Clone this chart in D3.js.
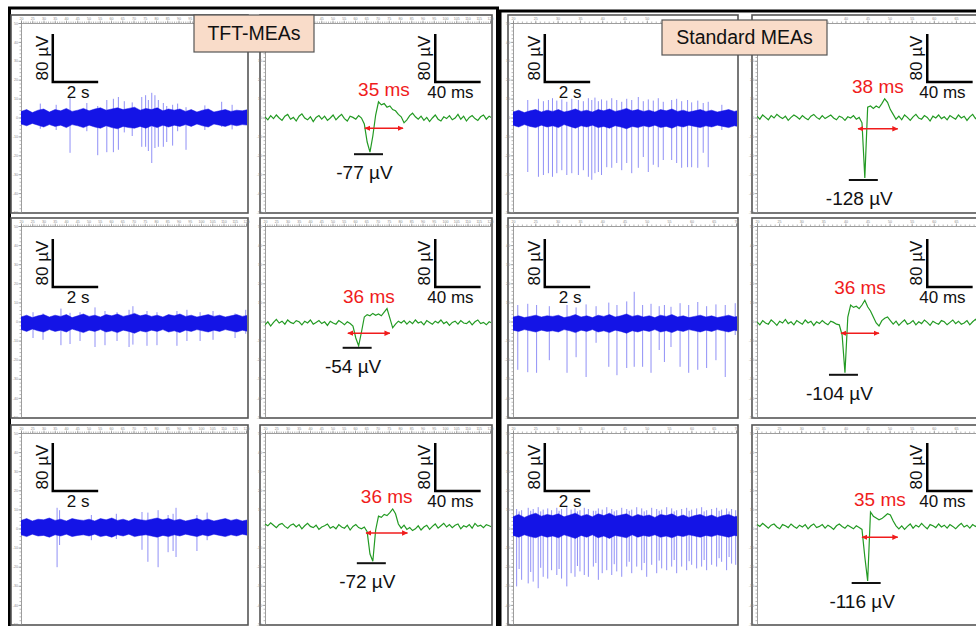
<!DOCTYPE html>
<html>
<head>
<meta charset="utf-8">
<script src="https://cdn.jsdelivr.net/npm/d3@7"></script>
<style>
  body { margin: 0; background: #fff; }
  svg { display: block; font-family: "Liberation Sans", Arial, sans-serif; }
</style>
</head>
<body>
<svg id="fig" width="976" height="626"></svg>
<script>
// ---- data (µV, s or ms) ----
const groupLabels = ["TFT-MEAs", "Standard MEAs"];
const durLabels = ["35 ms", "36 ms", "36 ms", "38 ms", "36 ms", "35 ms"];
const ampLabels = ["-77 µV", "-54 µV", "-72 µV", "-128 µV", "-104 µV", "-116 µV"];

// noise band envelopes, one value every 0.25 s (0..10 s)
const b1Up = [11,14,9,13,15,10,14,12,16,11,13,16,12,15,17,13,15,17,14,16,18,13,16,14,17,12,15,13,15,11,14,10,13,15,10,12,14,11,13,12,14];
const b1Lo = [-10,-13,-9,-12,-15,-11,-14,-12,-16,-11,-13,-16,-12,-15,-17,-13,-16,-18,-14,-16,-17,-14,-17,-13,-16,-12,-15,-12,-14,-11,-14,-10,-13,-15,-10,-12,-14,-11,-13,-11,-12];
const b2Up = [10,13,9,12,14,10,13,11,14,9,12,15,11,13,10,14,12,15,11,13,16,12,14,11,13,10,14,12,15,11,13,10,12,14,11,13,10,12,14,11,13];
const b2Lo = [-11,-14,-10,-13,-15,-11,-14,-12,-15,-10,-13,-16,-12,-14,-11,-15,-13,-16,-12,-14,-17,-13,-15,-12,-14,-11,-15,-13,-16,-12,-14,-11,-13,-15,-12,-14,-11,-13,-15,-12,-14];
const b3Up = [11,14,10,13,12,15,11,13,10,14,12,11,13,10,14,12,15,11,13,10,14,12,11,13,15,12,14,11,13,10,12,14,11,13,10,12,14,11,13,10,12];
const b3Lo = [-13,-16,-12,-15,-14,-17,-13,-15,-12,-16,-14,-13,-15,-12,-16,-14,-17,-13,-15,-12,-16,-14,-13,-15,-17,-14,-16,-13,-15,-12,-14,-16,-13,-15,-12,-14,-16,-13,-15,-12,-14];
const b4Up = [10,13,9,12,14,10,13,11,14,10,12,15,11,13,10,14,12,15,11,13,16,12,14,11,13,10,14,12,15,11,13,10,12,14,11,13,10,12,14,11,13];
const b4Lo = [-12,-15,-11,-14,-16,-12,-15,-13,-16,-11,-14,-17,-13,-15,-12,-16,-14,-17,-13,-15,-18,-14,-16,-13,-15,-12,-16,-14,-17,-13,-15,-12,-14,-16,-13,-15,-12,-14,-16,-13,-15];
const b5Up = [10,12,9,11,13,10,12,11,13,9,11,14,10,12,9,13,11,14,10,12,15,11,13,10,12,9,13,11,14,10,12,9,11,13,10,12,9,11,13,10,12];
const b5Lo = [-12,-14,-11,-13,-15,-12,-14,-13,-15,-11,-13,-16,-12,-14,-11,-15,-13,-16,-12,-14,-17,-13,-15,-12,-14,-11,-15,-13,-16,-12,-14,-11,-13,-15,-12,-14,-11,-13,-15,-12,-14];
const b6Up = [17,21,16,20,23,18,21,19,22,17,20,23,18,21,17,22,19,23,18,20,22,17,21,18,20,16,21,19,22,17,20,16,19,21,17,20,16,19,21,17,19];
const b6Lo = [-14,-17,-13,-16,-18,-14,-17,-15,-18,-13,-16,-19,-14,-17,-13,-18,-15,-19,-14,-16,-18,-13,-17,-14,-16,-13,-17,-15,-18,-14,-16,-13,-15,-17,-14,-16,-13,-15,-17,-14,-16];

// spikes: [time s, top µV, bottom µV]
const b1Spikes = [[0.85,24,-18],[1.55,22,-20],[2.16,35,-58],[2.9,25,-22],[3.38,20,-62],[3.78,30,-57],[4.07,32,-57],[4.29,35,-53],[4.55,28,-24],[4.9,26,-30],
  [5.32,35,-48],[5.49,38,-48],[5.61,30,-55],[5.76,42,-75],[5.90,38,-50],[6.05,30,-48],[6.27,25,-48],[6.42,20,-40],[6.68,22,-46],[6.9,24,-22],
  [7.27,18,-53],[8.1,21,-20],[8.84,27,-15],[9.3,22,-19]];
const b2Spikes = [[0.53,18,-25],[0.97,16,-28],[1.76,24,-37],[2.16,17,-35],[2.6,18,-30],[3.26,26,-40],[3.7,20,-37],[4.23,18,-30],[4.76,22,-40],
  [4.93,28,-36],[5.55,20,-38],[5.99,18,-37],[6.87,20,-38],[7.31,22,-30],[7.89,18,-30],[8.46,20,-28],[9.43,16,-25],[9.9,22,-18]];
const b3Spikes = [[1.59,32,-67],[1.7,28,-30],[3.1,20,-22],[4.2,22,-20],[5.33,25,-38],[5.59,24,-58],[6.04,28,-67],[6.48,20,-42],[6.70,22,-40],
  [6.83,32,-50],[7.75,20,-40],[8.2,24,-22]];
const b4Spikes = [[0.65,30,-90],[1.12,32,-98],[1.34,28,-95],[1.56,30,-92],[1.74,33,-98],[1.93,29,-92],[2.15,31,-87],[2.37,27,-95],[2.59,32,-92],
  [2.88,30,-95],[3.10,28,-87],[3.32,33,-98],[3.47,30,-103],[3.61,34,-92],[3.76,28,-90],[3.90,31,-95],[4.13,29,-82],[4.35,33,-83],[4.57,30,-75],
  [4.79,27,-87],[5.01,32,-75],[5.23,30,-92],[5.52,35,-83],[5.74,28,-65],[5.96,31,-90],[6.18,29,-78],[6.40,33,-82],[6.62,27,-70],[6.99,30,-70],
  [7.21,32,-75],[7.43,28,-83],[7.69,30,-82],[7.87,26,-82],[8.14,29,-83],[8.38,25,-58],[8.60,27,-82],[9.2,22,-20]];
const b5Spikes = [[0.21,30,-78],[0.65,32,-82],[1.04,30,-83],[1.6,28,-62],[2.38,30,-83],[2.78,26,-57],[3.22,31,-90],[3.66,28,-33],[4.22,34,-73],
  [4.58,30,-87],[5.01,36,-75],[5.34,52,-73],[5.71,30,-73],[6.08,32,-83],[6.44,28,-45],[6.67,30,-65],[6.96,27,-40],[7.36,33,-73],[7.74,30,-83],
  [8.14,35,-78],[8.53,28,-75],[8.94,31,-62],[9.35,30,-90],[9.79,33,-20]];
const b6Spikes = [[0.16,30,-99],[0.27,26,-70],[0.38,28,-88],[0.67,32,-94],[0.78,27,-75],[0.89,30,-91],[1.11,33,-102],[1.22,26,-68],[1.33,29,-83],
  [1.53,31,-86],[1.70,28,-72],[1.93,32,-80],[2.03,27,-70],[2.14,30,-86],[2.37,33,-99],[2.56,29,-77],[2.73,31,-83],[2.84,26,-65],[2.95,28,-74],
  [3.14,32,-80],[3.32,30,-83],[3.54,27,-66],[3.65,27,-60],[3.76,31,-88],[3.93,29,-77],[4.13,33,-72],[4.35,30,-80],[4.46,26,-62],[4.57,28,-74],
  [4.79,32,-83],[5.01,30,-66],[5.12,27,-58],[5.23,29,-77],[5.45,33,-66],[5.67,31,-72],[5.78,26,-60],[5.89,28,-83],[6.11,32,-63],[6.33,30,-77],
  [6.44,27,-56],[6.55,29,-69],[6.77,33,-72],[6.99,31,-66],[7.1,26,-55],[7.21,28,-77],[7.43,30,-66],[7.65,32,-72],[7.76,27,-57],[7.87,29,-63],
  [8.09,31,-69],[8.31,33,-66],[8.42,26,-55],[8.53,28,-72],[8.75,30,-63],[8.97,32,-66],[9.08,27,-52],[9.19,29,-58],[9.41,31,-72],[9.52,26,-50],
  [9.63,30,-61],[9.81,28,-63]];

// averaged waveforms, one value every 2.5 ms (0..200 ms), µV
const g1 = [2,-3,4,-1,5,0,-4,3,6,-2,1,-5,3,7,0,-3,2,-6,1,4,-2,3,-4,0,5,-3,2,6,-1,-5,3,1,-2,4,0,
  -10,-40,-57,-30,5,27,22,24,18,20,14,12,6,2,-8,-3,4,8,2,-2,
  3,-4,1,-6,0,5,-2,-5,2,-1,4,-3,0,6,-2,3,-5,1,4,-1,-4,2,5,-2,3,0];
const g2 = [-3,2,-5,1,6,0,3,-2,5,1,-1,4,2,-3,3,0,5,-2,1,4,-1,2,-4,3,0,-2,4,1,-3,2,-1,
  -5,-25,-38,-15,10,14,12,16,13,15,12,18,24,8,-8,-2,3,
  0,4,-2,3,-1,5,0,2,-3,4,1,-2,3,0,5,-1,2,-4,1,3,-2,4,0,-1,3,-3,2,5,-1,1,-3,2,0];
const g3 = [5,2,7,3,-1,4,6,1,-2,3,5,0,4,-3,2,6,1,-1,3,-4,0,2,5,-2,1,-3,4,0,-2,3,-5,1,4,-1,-3,0,
  -8,-45,-57,-5,18,16,21,19,24,30,22,5,-2,
  3,-4,-1,-6,-3,2,-5,0,3,-4,1,5,-2,2,6,0,4,-1,3,5,-3,2,0,4,-2,6,1,3,-1,4,2,0];
const g4 = [3,-2,5,1,-3,4,0,6,2,-1,3,-4,1,5,2,-2,4,0,-3,3,6,1,-2,4,-1,2,5,0,-3,3,1,-4,2,0,4,-2,1,
  -8,-100,18,20,16,20,17,24,32,26,14,6,-2,3,
  -3,5,1,-4,2,6,0,-2,4,1,-5,3,0,5,-1,2,-3,4,1,-2,5,0,3,-4,2,6,-1,3,0,2];
const g5 = [2,-3,4,0,-2,5,1,-4,3,0,6,-1,2,-3,4,1,-2,5,0,3,-4,2,-1,4,0,-3,3,1,-2,
  -3,-20,-83,10,30,26,28,24,30,38,27,20,10,0,-5,4,8,10,4,-2,
  3,-4,1,5,-2,0,4,-3,2,-1,5,1,-4,3,0,-2,4,2,-3,1,5,-1,3,-2,0,4,-3,2,6,0,-2,3];
const g6 = [4,1,6,2,-2,3,5,0,-3,4,2,-1,5,1,-2,3,0,4,-3,2,5,-1,1,4,-2,3,0,-4,2,5,1,-2,3,0,-3,2,-1,
  -4,-50,-90,25,18,15,12,14,18,22,20,10,2,-3,
  2,-4,1,5,-2,3,0,6,1,-3,4,2,-1,5,0,3,-2,4,1,-3,2,6,0,3,-2,4,1,5,-1,2];
// duration arrows: [start ms, end ms, level µV]
const arrows = [[88,121.6,-17],[73,110,-17],[89,125.5,-10],[89,124,-18],[74,107.5,-17],[92.5,124,-17]];

// ---- layout ----
const W = 976;
const colX = [11, 260, 508, 752], colW = [237, 232, 230, 228];
const plotX0 = [21, 265, 513, 757];
const rowY = [15, 218, 425], rowH = [198, 200, 200];
const baseY = [118, 323, 527];
const plotW = 227, halfH = 96;
const blue = "#1414e6", spikeBlue = "#4646f0", green = "#239a23", red = "#f01c1c";
const boxes = [
  { x: 194, y: 15, w: 120, h: 37, by: 40 },
  { x: 662, y: 20, w: 165, h: 35, by: 44 }
];
const underBox = (px, py) => boxes.some(b => px > b.x - 4 && px < b.x + b.w + 4 && py > b.y - 4 && py < b.y + b.h + 4);

const svg = d3.select("#fig");
const defs = svg.append("defs");
defs.append("marker").attr("id", "ah")
  .attr("viewBox", "0 0 10 10").attr("refX", 9).attr("refY", 5)
  .attr("markerWidth", 6).attr("markerHeight", 6)
  .attr("markerUnits", "userSpaceOnUse").attr("orient", "auto-start-reverse")
  .append("path").attr("d", "M0,0.5L10,5L0,9.5z").attr("fill", red);

// outer black frames
svg.append("rect").attr("x", 9.5).attr("y", 8).attr("width", 488).attr("height", 650)
  .attr("fill", "none").attr("stroke", "#000").attr("stroke-width", 3);
svg.append("rect").attr("x", 500).attr("y", 11).attr("width", 520).attr("height", 650)
  .attr("fill", "none").attr("stroke", "#000").attr("stroke-width", 3);

function ruler(g, x0, y0, x1, y1, nTop) {
  const top = d3.scaleLinear().domain([0, nTop]).range([x0, x1]);
  const left = d3.scaleLinear().domain([-5, 5]).range([y1, y0]);
  const minorT = g.append("g").attr("transform", `translate(0,${y0})`)
    .call(d3.axisTop(top).ticks(nTop * 4).tickSize(1.5).tickFormat(""));
  const majorT = g.append("g").attr("transform", `translate(0,${y0})`)
    .call(d3.axisTop(top).ticks(nTop).tickSize(2.5).tickPadding(0.5).tickFormat(d => d * 5 + 20));
  const minorL = g.append("g").attr("transform", `translate(${x0},0)`)
    .call(d3.axisLeft(left).ticks(50).tickSize(1.5).tickFormat(""));
  const majorL = g.append("g").attr("transform", `translate(${x0},0)`)
    .call(d3.axisLeft(left).ticks(10).tickSize(2.5).tickPadding(0.5).tickFormat(d => d * 10));
  [minorT, majorT, minorL, majorL].forEach(a => {
    a.selectAll("path,line").attr("stroke", "#8a8a8a").attr("stroke-width", 0.6);
    a.selectAll("text").attr("font-size", 3.6).attr("fill", "#8a8a8a");
  });
  // labels that fall off the page or sit under a group label box are not shown
  majorT.selectAll(".tick").filter(d => top(d) > W - 6 || underBox(top(d), y0)).select("text").remove();
  majorL.selectAll(".tick").filter(d => underBox(x0 - 3, left(d))).select("text").remove();
}

function panel(col, row, nTop) {
  const x = colX[col], y = rowY[row], w = colW[col], h = rowH[row];
  const g = svg.append("g");
  g.append("rect").attr("x", x).attr("y", y).attr("width", w).attr("height", h)
    .attr("fill", "#fff").attr("stroke", "#555").attr("stroke-width", 1.6);
  const id = `clip${col}${row}`;
  defs.append("clipPath").attr("id", id).append("rect")
    .attr("x", plotX0[col]).attr("y", y + 8).attr("width", x + w - plotX0[col] - 1).attr("height", h - 9);
  ruler(g, plotX0[col], y + 8, x + w - 2, y + h - 1, nTop);
  const ys = d3.scaleLinear().domain([-160, 160]).range([baseY[row] + halfH, baseY[row] - halfH]);
  return { g, plot: g.append("g").attr("clip-path", `url(#${id})`), ys };
}

function scaleBar(g, xs, ys, t0, t1, label, labelDx) {
  g.append("path").attr("d", `M${xs(t0)},${ys(140)}V${ys(60)}H${xs(t1)}`)
    .attr("fill", "none").attr("stroke", "#000").attr("stroke-width", 2.5);
  g.append("text").attr("transform", `translate(${xs(t0) - 5},${ys(100)}) rotate(-90)`)
    .attr("text-anchor", "middle").attr("font-size", 17).attr("fill", "#111").text("80 µV");
  g.append("text").attr("x", xs(t0) + labelDx).attr("y", ys(60) + 15.5)
    .attr("font-size", 17).attr("fill", "#111").text(label);
}

// ---- burst recordings (10 s windows) ----
const bursts = [
  { col: 0, row: 0, up: b1Up, lo: b1Lo, spikes: b1Spikes },
  { col: 0, row: 1, up: b2Up, lo: b2Lo, spikes: b2Spikes },
  { col: 0, row: 2, up: b3Up, lo: b3Lo, spikes: b3Spikes },
  { col: 2, row: 0, up: b4Up, lo: b4Lo, spikes: b4Spikes },
  { col: 2, row: 1, up: b5Up, lo: b5Lo, spikes: b5Spikes },
  { col: 2, row: 2, up: b6Up, lo: b6Lo, spikes: b6Spikes }
];
bursts.forEach(b => {
  const p = panel(b.col, b.row, b.col === 0 ? 20 : 10);
  const xs = d3.scaleLinear().domain([0, 10]).range([plotX0[b.col], plotX0[b.col] + plotW]);
  p.plot.selectAll("line.spike").data(b.spikes).join("line").attr("class", "spike")
    .attr("x1", d => xs(d[0])).attr("x2", d => xs(d[0]))
    .attr("y1", d => p.ys(d[1])).attr("y2", d => p.ys(d[2]))
    .attr("stroke", spikeBlue).attr("stroke-opacity", 0.6).attr("stroke-width", 1);
  const area = d3.area().x((d, i) => xs(i * 0.25)).y0((d, i) => p.ys(b.lo[i])).y1(d => p.ys(d));
  p.plot.append("path").datum(b.up).attr("d", area)
    .attr("fill", blue).attr("stroke", blue).attr("stroke-width", 0.5);
  scaleBar(p.g, xs, p.ys, 1.4, 3.4, "2 s", 14);
});

// ---- averaged spike waveforms (200 ms windows) ----
const waves = [
  { col: 1, row: 0, v: g1 }, { col: 1, row: 1, v: g2 }, { col: 1, row: 2, v: g3 },
  { col: 3, row: 0, v: g4 }, { col: 3, row: 1, v: g5 }, { col: 3, row: 2, v: g6 }
];
waves.forEach((w, k) => {
  const p = panel(w.col, w.row, w.col === 1 ? 20 : 10);
  const xs = d3.scaleLinear().domain([0, 200]).range([plotX0[w.col], plotX0[w.col] + plotW]);
  const line = d3.line().x((d, i) => xs(i * 2.5)).y(d => p.ys(d));
  p.plot.append("path").datum(w.v).attr("d", line)
    .attr("fill", "none").attr("stroke", green).attr("stroke-width", 1.2);

  const a = arrows[k];
  p.g.append("line").attr("x1", xs(a[0])).attr("x2", xs(a[1]))
    .attr("y1", p.ys(a[2])).attr("y2", p.ys(a[2]))
    .attr("stroke", red).attr("stroke-width", 1.6)
    .attr("marker-start", "url(#ah)").attr("marker-end", "url(#ah)");
  p.g.append("text").attr("x", (xs(a[0]) + xs(a[1])) / 2).attr("y", p.ys(d3.max(w.v)) - 6)
    .attr("text-anchor", "middle").attr("font-size", 19).attr("fill", red).text(durLabels[k]);

  const iMin = d3.minIndex(w.v);
  const tx = xs(iMin * 2.5), ty = p.ys(w.v[iMin]) + 2;
  p.g.append("line").attr("x1", tx - 16).attr("x2", tx + 13).attr("y1", ty).attr("y2", ty)
    .attr("stroke", "#111").attr("stroke-width", 2);
  p.g.append("text").attr("x", tx - 5.5).attr("y", ty + 25)
    .attr("text-anchor", "middle").attr("font-size", 19).attr("fill", "#111").text(ampLabels[k]);

  scaleBar(p.g, xs, p.ys, 150, 190, "40 ms", -8);
});

// ---- group labels ----
boxes.forEach((b, i) => {
  svg.append("rect").attr("x", b.x).attr("y", b.y).attr("width", b.w).attr("height", b.h)
    .attr("fill", "#f9dcc9").attr("stroke", "#555").attr("stroke-width", 1.2);
  svg.append("text").attr("x", b.x + b.w / 2).attr("y", b.by).attr("text-anchor", "middle")
    .attr("font-size", 19.5).attr("fill", "#111").text(groupLabels[i]);
});
</script>
</body>
</html>
